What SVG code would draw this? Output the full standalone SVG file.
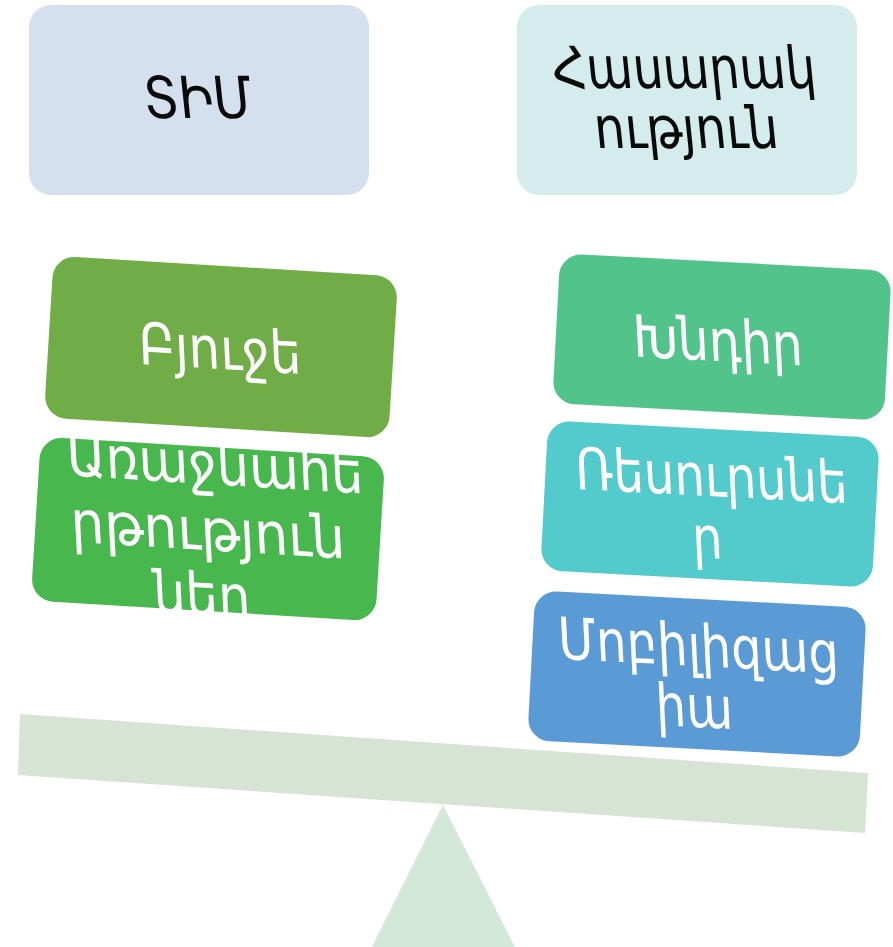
<svg xmlns="http://www.w3.org/2000/svg" width="893" height="947" viewBox="0 0 893 947">
<style>
.t{font-family:"DejaVu Sans",sans-serif;font-size:58px;text-anchor:middle}
.w{fill:#ffffff}
.k{fill:#0a0a0a}
</style>
<rect width="893" height="947" fill="#ffffff"/>
<g id="fulcrum"><polygon points="443,805 515,947 372,947" fill="#d3e8d9"/></g>
<g id="beam"><polygon points="20,714 868,773 865,833 18,775" fill="#d6e4d3"/></g>
<g id="header-tim">
<rect x="29" y="5" width="340" height="190" rx="22" fill="#d5e0ef"/>
<text class="t k" transform="translate(200 118) scale(0.86 1) skewX(7)">ՏԻՄ</text>
</g>
<g id="header-society">
<rect x="517" y="5" width="340" height="190" rx="22" fill="#d4ecec"/>
<text class="t k" transform="translate(686 88) scale(0.82 1) skewX(7)">Հասարակ</text>
<text class="t k" transform="translate(688 148) scale(0.84 1) skewX(7)">ություն</text>
</g>
<g id="budget" transform="rotate(3.5 221 347)">
<rect x="48.5" y="266" width="345" height="162" rx="22" fill="#70ad47"/>
<text class="t w" transform="translate(222 369) scale(0.86 1) skewX(7)">Բյուջե</text>
</g>
<g id="priorities" transform="rotate(3.5 208 529)">
<rect x="35.5" y="447" width="345" height="164" rx="22" fill="#48b84e"/>
<text class="t w" transform="translate(213 484) scale(0.88 1) skewX(7)">Առաջնահե</text>
<text class="t w" transform="translate(210 550) scale(0.92 1) skewX(7)">րթություն</text>
<text class="t w" transform="translate(208 615) scale(0.88 1) skewX(7)">ներ</text>
</g>
<g id="problem" transform="rotate(3 722 337)">
<rect x="556" y="262" width="332" height="150" rx="22" fill="#52c48b"/>
<text class="t w" transform="translate(720 361) scale(0.84 1) skewX(7)">Խնդիր</text>
</g>
<g id="resources" transform="rotate(3 710 504)">
<rect x="544" y="429" width="332" height="150" rx="22" fill="#53cbcc"/>
<text class="t w" transform="translate(712 496) scale(0.83 1) skewX(7)">Ռեսուրսնե</text>
<text class="t w" transform="translate(711 558) scale(0.83 1) skewX(7)">ր</text>
</g>
<g id="mobilization" transform="rotate(3 697 674)">
<rect x="531" y="599" width="332" height="150" rx="22" fill="#5b9bd5"/>
<text class="t w" transform="translate(699 666) scale(0.83 1) skewX(7)">Մոբիլիզաց</text>
<text class="t w" transform="translate(698 727) scale(0.83 1) skewX(7)">իա</text>
</g>
<g id="connectors"></g>
</svg>
